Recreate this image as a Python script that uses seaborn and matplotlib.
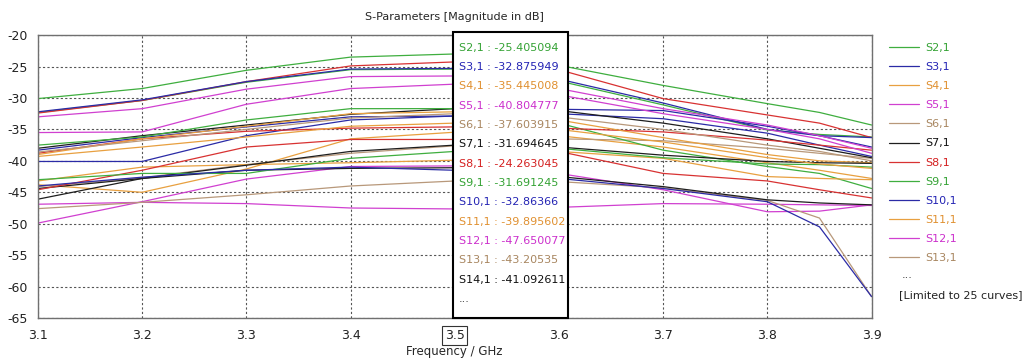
import matplotlib
matplotlib.use("Agg")
import matplotlib.pyplot as plt
from matplotlib.lines import Line2D
from matplotlib.patches import Rectangle
import pandas as pd
import seaborn as sns

freq = [3.1, 3.2, 3.3, 3.4, 3.5, 3.6, 3.7, 3.8, 3.85, 3.9]

# magnitude in dB of S(n,1)
s2 = [-32.3, -30.4, -27.5, -25.5, -25.405094, -27.3, -31.1, -35.1, -35.8, -36.2]
s3 = [-38.3, -36.3, -34.6, -33.0, -32.875949, -32.5, -33.3, -35.6, -37.5, -39.3]
s4 = [-43.8, -45.0, -41.3, -36.5, -35.445008, -36.0, -37.8, -40.3, -41.5, -42.8]
s5 = [-49.9, -46.5, -42.9, -40.9, -40.804777, -42.0, -44.6, -48.1, -48.0, -47.0]
s6 = [-44.1, -42.7, -40.6, -38.8, -37.603915, -36.5, -36.8, -38.0, -38.8, -39.6]
s7 = [-38.0, -36.0, -34.3, -32.6, -31.694645, -32.0, -34.0, -36.5, -38.0, -39.5]
s8 = [-32.4, -30.4, -27.4, -24.9, -24.263045, -25.5, -30.1, -32.7, -34.0, -36.3]
s9 = [-37.5, -36.2, -33.5, -31.7, -31.691245, -34.0, -38.3, -40.9, -42.0, -44.4]
s10 = [-40.1, -40.1, -36.0, -33.5, -32.86366, -31.8, -32.0, -34.5, -36.0, -37.8]
s11 = [-43.2, -41.0, -40.6, -40.3, -39.895602, -38.5, -39.6, -42.5, -42.8, -43.0]
s12 = [-46.9, -46.6, -46.8, -47.5, -47.650077, -47.4, -46.8, -46.9, -47.0, -47.1]
s13 = [-47.6, -46.6, -45.4, -44.0, -43.20535, -43.3, -44.3, -46.3, -49.1, -61.6]
s14 = [-44.4, -42.8, -41.5, -41.2, -41.092611, -42.5, -44.1, -46.2, -46.7, -47.0]
s15 = [-38.8, -36.5, -35.3, -34.8, -34.6, -34.8, -35.4, -36.7, -37.5, -38.3]
s16 = [-30.1, -28.5, -25.6, -23.5, -23.0, -24.8, -28.0, -30.9, -32.3, -34.3]
s17 = [-32.2, -30.3, -27.4, -25.4, -25.3, -27.0, -30.8, -35.0, -36.0, -36.3]
s18 = [-39.0, -36.5, -34.5, -32.5, -32.2, -33.5, -36.3, -39.0, -40.0, -40.3]
s19 = [-33.0, -31.7, -28.6, -26.6, -26.5, -28.5, -31.7, -34.3, -36.0, -38.0]
s20 = [-38.6, -36.8, -35.0, -33.2, -32.5, -33.0, -35.0, -37.5, -38.5, -40.0]
s21 = [-46.1, -42.8, -40.7, -38.5, -37.5, -37.8, -39.1, -40.1, -40.3, -40.4]
s22 = [-44.6, -41.5, -37.8, -36.6, -36.6, -38.5, -42.0, -43.2, -44.6, -45.9]
s23 = [-43.0, -42.0, -42.0, -39.6, -38.5, -38.0, -39.5, -40.5, -40.6, -41.0]
s24 = [-44.0, -42.6, -41.5, -41.0, -41.5, -42.8, -44.4, -46.5, -50.5, -61.6]
s25 = [-39.3, -37.8, -36.2, -34.5, -34.0, -35.0, -37.0, -39.5, -40.5, -41.2]
s26 = [-35.5, -35.4, -31.0, -28.5, -27.8, -29.5, -32.5, -35.0, -36.5, -38.8]

series = [s2, s3, s4, s5, s6, s7, s8, s9, s10, s11, s12, s13, s14,
          s15, s16, s17, s18, s19, s20, s21, s22, s23, s24, s25, s26]
names = [f"S{n},1" for n in range(2, 27)]

cycle = ["#3fae3f", "#2b2ba6", "#e8a040", "#d040d0", "#b8987a", "#1e1e1e", "#d83232"]
text_cycle = ["#34a234", "#2424b4", "#e09030", "#cc30cc", "#a88660", "#111111", "#d42020"]
colors = {nm: cycle[i % 7] for i, nm in enumerate(names)}

rows = []
for nm, vals in zip(names, series):
    for f, v in zip(freq, vals):
        rows.append({"curve": nm, "freq": f, "dB": v})
df = pd.DataFrame(rows)

sns.set_style("white")
plt.rcParams["font.family"] = ["DejaVu Sans"]
plt.rcParams["axes.unicode_minus"] = False

fig = plt.figure(figsize=(10.23, 3.62), dpi=100)
ax = fig.add_axes([0.037, 0.1215, 0.815, 0.7815])

sns.lineplot(data=df, x="freq", y="dB", hue="curve", palette=colors,
             estimator=None, linewidth=0.9, legend=False, ax=ax)

ax.set_xlim(3.1, 3.9)
ax.set_ylim(-65, -20)
xt = [3.1, 3.2, 3.3, 3.4, 3.5, 3.6, 3.7, 3.8, 3.9]
ax.set_xticks(xt)
ax.set_xticklabels([f"{v:.1f}" for v in xt])
ax.set_yticks(range(-65, -19, 5))
ax.grid(True, linestyle=(0, (2, 2)), color="#555555", linewidth=0.8)
for sp in ax.spines.values():
    sp.set_color("#707070")
    sp.set_linewidth(1.0)
ax.tick_params(axis="both", labelsize=9, colors="#222222", length=4,
               width=0.8, direction="out")
ax.tick_params(axis="x", pad=4)
ax.tick_params(axis="y", pad=3)
ax.get_xticklabels()[4].set_bbox(dict(facecolor="white", edgecolor="#333333",
                                      linewidth=0.8, pad=2))

ax.set_xlabel("Frequency / GHz", fontsize=8.5, labelpad=2)
ax.set_ylabel("")
ax.set_title("S-Parameters [Magnitude in dB]", fontsize=8, pad=11)

# marker readout box at 3.5 GHz
ax.add_patch(Rectangle((0.4976, 0.0), 0.138, 1.011, transform=ax.transAxes,
                       facecolor="white", edgecolor="black", linewidth=1.5,
                       clip_on=False, zorder=5))
step = 0.0683
for i in range(13):
    ax.text(0.505, 0.955 - i * step, f"{names[i]} : {series[i][4]}",
            transform=ax.transAxes, fontsize=8, color=text_cycle[i % 7],
            va="center", ha="left", zorder=6)
ax.text(0.505, 0.955 - 13 * step, "...", transform=ax.transAxes,
        fontsize=8, color="#333333", va="center", ha="left", zorder=6)

# legend on the right
handles = [Line2D([0], [0], color=colors[nm], linewidth=0.9) for nm in names[:12]]
leg = ax.legend(handles, names[:12], loc="upper left",
                bbox_to_anchor=(0.864, 0.897), bbox_transform=fig.transFigure,
                frameon=False, fontsize=8, handlelength=2.7,
                handletextpad=0.55, labelspacing=0.82, borderpad=0)
for t, i in zip(leg.get_texts(), range(12)):
    t.set_color(text_cycle[i % 7])
fig.text(0.881, 0.240, "...", fontsize=8, color="#333333", va="center")
fig.text(0.879, 0.185, "[Limited to 25 curves]", fontsize=8,
         color="#222222", va="center")

fig.savefig("out.png", dpi=100)
